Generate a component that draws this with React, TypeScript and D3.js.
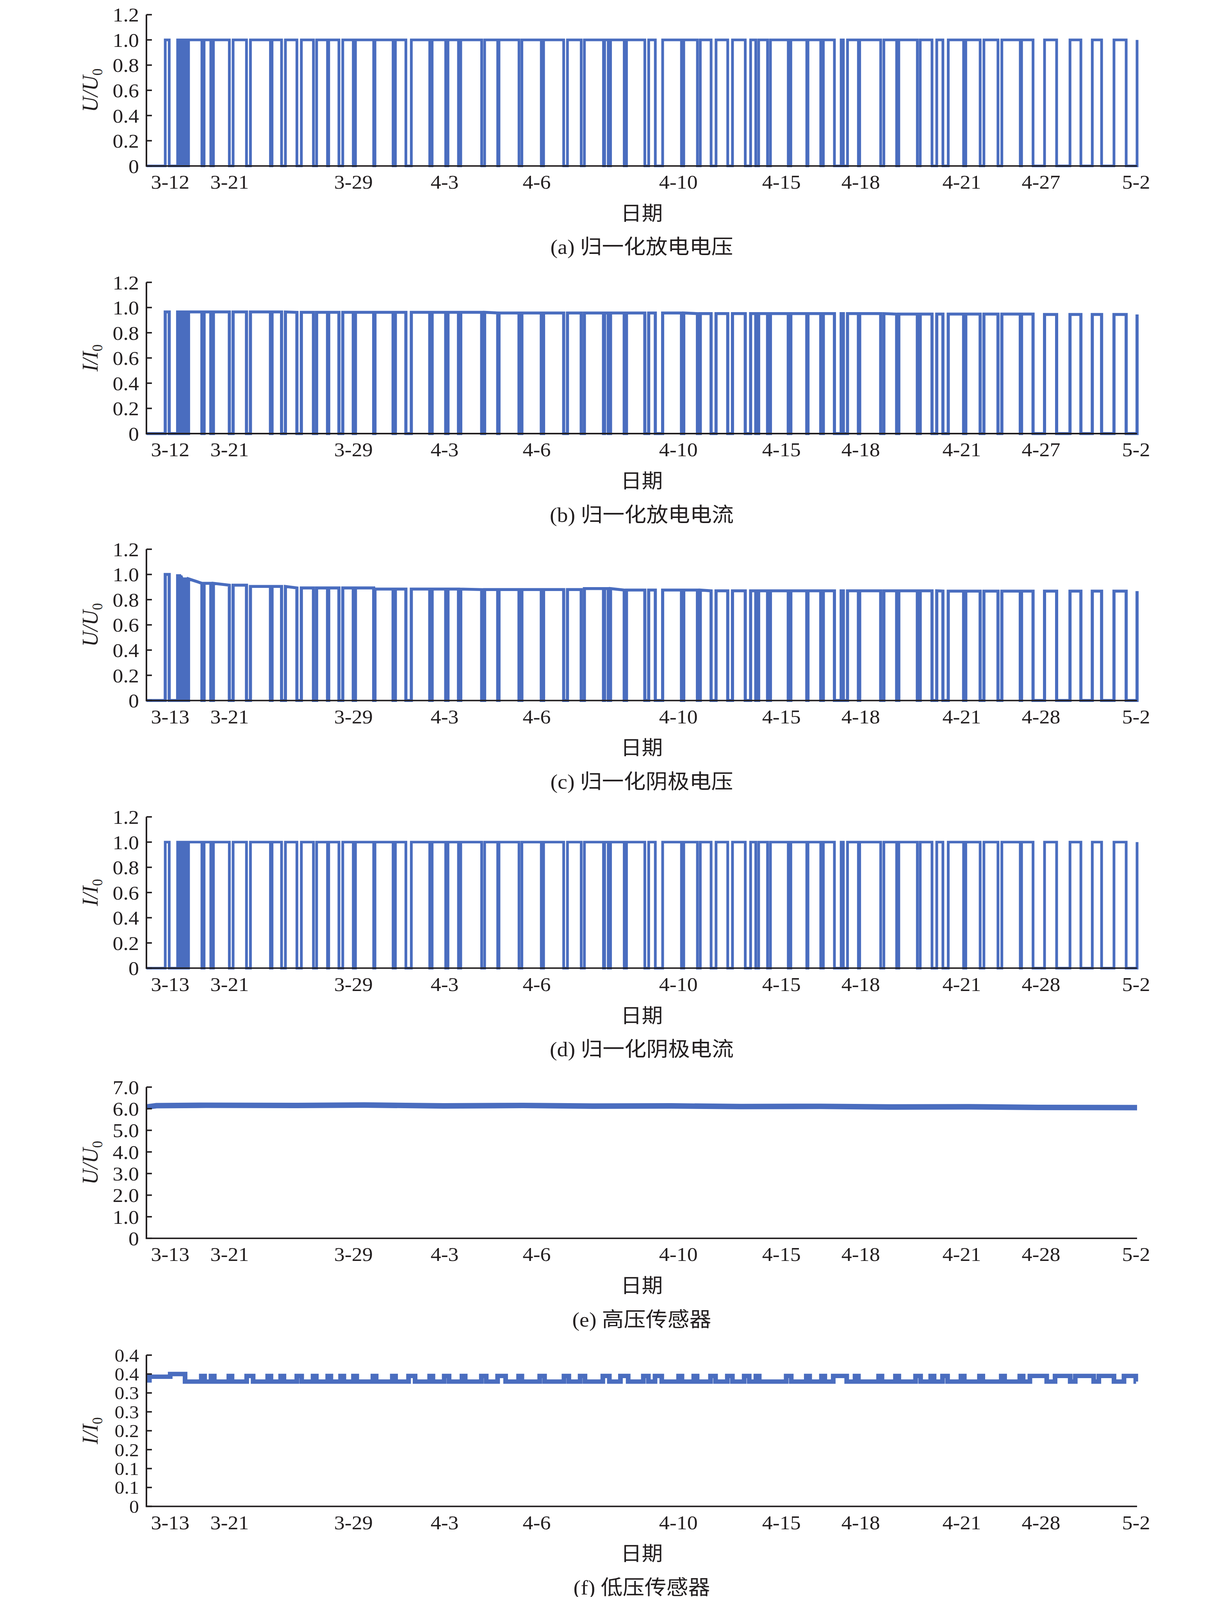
import React, { useEffect, useState } from "react";
import * as d3 from "d3";

// sample index runs 0..1000 across the record, date labels sit at these indices
const tickIndex = [24, 84, 209, 301, 394, 537, 641, 721, 823, 903, 999];
const datesAB = ["3-12", "3-21", "3-29", "4-3", "4-6", "4-10", "4-15", "4-18", "4-21", "4-27", "5-2"];
const datesCF = ["3-13", "3-21", "3-29", "4-3", "4-6", "4-10", "4-15", "4-18", "4-21", "4-28", "5-2"];

// discharge on/off record: a first short run, then the main run with its off gaps
const firstPulse: [number, number] = [19, 23];
const mainStart = 31.5;
const gaps: [number, number][] = [
  [33.5, 34.7], [36, 37.3], [38.6, 39.9], [41.2, 42.5],
  [56, 58.2], [65, 67.6], [83.7, 87.5], [101, 105], [125.2, 126.8], [136.4, 140.3],
  [151.9, 156.4], [168.6, 171.8], [182.8, 184], [194.3, 198.2], [208.8, 211],
  [229.4, 230.7], [249, 251.3], [261.9, 267.4], [286, 288.4], [302.1, 304.4],
  [315, 317.3], [338.4, 341.4], [354.6, 355.9], [376.1, 379], [398.6, 400.9],
  [421.2, 425], [438.9, 442.1], [461.4, 462.5], [466.2, 468.5], [482.3, 484.6],
  [503.1, 507], [513.7, 521.1], [540.1, 542.4], [556.2, 559.1], [570, 575],
  [586.8, 591.6], [604.5, 609.9], [615.1, 618], [627, 629.9], [647.9, 650.5],
  [666.6, 667.8], [680.7, 683.3], [694.5, 701.3], [703.5, 707.7], [718.7, 720],
  [741.2, 744.4], [757.3, 759.5], [778.2, 781.1], [793, 797.8], [804, 809.4],
  [824.9, 827.1], [841.6, 845.4], [859.6, 863.5], [882.1, 883.4], [895, 906.6],
  [918.8, 932.3], [943.3, 954.8], [964.2, 976.7], [989, 1000],
];

// plateau levels while on, [from index, level]
const levelsA: [number, number][] = [[0, 1.0]];
const levelsB: [number, number][] = [
  [0, 0.965], [150, 0.962], [350, 0.957], [550, 0.952], [750, 0.948], [900, 0.945],
];
const levelsC: [number, number][] = [
  [0, 1.0], [25, 0.99], [36, 0.965], [43, 0.945], [52, 0.93], [70, 0.915],
  [105, 0.905], [150, 0.893], [230, 0.884], [330, 0.88], [440, 0.888],
  [470, 0.876], [560, 0.87], [800, 0.868],
];
const levelsD: [number, number][] = [[0, 1.0]];

// high voltage sensor
const levelsE: [number, number][] = [
  [0, 6.08], [10, 6.14], [60, 6.16], [150, 6.15], [220, 6.17], [300, 6.13],
  [380, 6.15], [450, 6.12], [530, 6.13], [600, 6.1], [680, 6.11], [750, 6.08],
  [830, 6.09], [900, 6.06], [1000, 6.05],
];

// low voltage sensor: base level with raised steps
const fStart: [number, number][] = [[0, 0.333], [3, 0.343], [24, 0.35], [39, 0.33]];
const fBase = 0.33;
const fRaised = 0.345;
const fBumps: [number, number][] = [
  [55.4, 58.7], [65.2, 68.5], [83.2, 86.4], [101.2, 107.7], [122.4, 125.7], [135.5, 138.8],
  [151.8, 156.7], [168.2, 171.5], [183, 186.2], [196, 199.3], [209, 212.3], [228.6, 231.9],
  [248.2, 251.5], [264.6, 271.2], [285.9, 289.2], [300.6, 305.5], [318.5, 321.8], [338.1, 343],
  [354.5, 362.6], [375.7, 379], [397, 401.9], [421.5, 426.4], [437.8, 442.7], [460.7, 467.3],
  [478.5, 486.3], [501.6, 506.7], [513.4, 520.2], [537.2, 540.6], [552.5, 555.9], [569.4, 574.5],
  [586.4, 591.5], [603.4, 608.5], [615.2, 618.6], [645.8, 650.9], [666.1, 669.5], [681.4, 684.8],
  [693.3, 706.9], [715.3, 718.7], [739.1, 742.5], [756.1, 759.5], [776.4, 781.5], [791.7, 795.1],
  [803.6, 808.7], [822.2, 825.6], [840.9, 844.3], [862.9, 866.3], [881.6, 885], [891.8, 908.8],
  [917.2, 932.5], [937.6, 956.2], [961.4, 976.7], [986.8, 998.7],
];

const unitTicks = [0, 0.2, 0.4, 0.6, 0.8, 1.0, 1.2];
const unitLabels = ["0", "0.2", "0.4", "0.6", "0.8", "1.0", "1.2"];
const eTicks = [0, 1, 2, 3, 4, 5, 6, 7];
const eLabels = ["0", "1.0", "2.0", "3.0", "4.0", "5.0", "6.0", "7.0"];
const fTicks = [0, 0.05, 0.1, 0.15, 0.2, 0.25, 0.3, 0.35, 0.4];
const fLabels = ["0", "0.1", "0.1", "0.2", "0.2", "0.3", "0.3", "0.4", "0.4"];

const W = 3150;
const H = 4358;
const X0 = 375;
const X1 = 2912;
const PLOT_H = 412;
const BLUE = "#4a6dbf";
const INK = "#231f20";
const SERIF = "'Liberation Serif', 'Times New Roman', 'Noto Sans CJK SC', serif";

const stepLevel = (tbl: [number, number][]) => (x: number) => {
  let v = tbl[0][1];
  for (const [x0, y] of tbl) if (x >= x0) v = y;
  return v;
};

function pulseSignal(tbl: [number, number][]): [number, number][] {
  const lv = stepLevel(tbl);
  const [p0, p1] = firstPulse;
  const pts: [number, number][] = [
    [0, 0], [p0, 0], [p0, lv(p0)], [p1, lv(p1)], [p1, 0],
    [mainStart, 0], [mainStart, lv(mainStart)],
  ];
  gaps.forEach(([g0, g1]) => {
    pts.push([g0, lv(g0)], [g0, 0], [g1, 0], [g1, lv(g1)]);
  });
  return pts;
}

function lowSensor(): [number, number][] {
  const pts: [number, number][] = [];
  fStart.forEach(([x, y], i) => {
    if (i > 0) pts.push([x, pts[pts.length - 1][1]]);
    pts.push([x, y]);
  });
  fBumps.forEach(([b0, b1]) => {
    pts.push([b0, fBase], [b0, fRaised], [b1, fRaised], [b1, fBase]);
  });
  pts.push([999, fBase]);
  return pts;
}

type Panel = {
  zero: number;
  yMax: number;
  ticks: number[];
  labels: string[];
  sym: "U" | "I";
  dates: string[];
  caption: string;
  data: [number, number][];
  width: number;
  tickFont: number;
};

const panels: Panel[] = [
  { zero: 452, yMax: 1.2, ticks: unitTicks, labels: unitLabels, sym: "U", dates: datesAB, caption: "(a) 归一化放电电压", data: pulseSignal(levelsA), width: 7, tickFont: 54 },
  { zero: 1181, yMax: 1.2, ticks: unitTicks, labels: unitLabels, sym: "I", dates: datesAB, caption: "(b) 归一化放电电流", data: pulseSignal(levelsB), width: 8, tickFont: 54 },
  { zero: 1908, yMax: 1.2, ticks: unitTicks, labels: unitLabels, sym: "U", dates: datesCF, caption: "(c) 归一化阴极电压", data: pulseSignal(levelsC), width: 8, tickFont: 54 },
  { zero: 2637, yMax: 1.2, ticks: unitTicks, labels: unitLabels, sym: "I", dates: datesCF, caption: "(d) 归一化阴极电流", data: pulseSignal(levelsD), width: 7, tickFont: 54 },
  { zero: 3373, yMax: 7, ticks: eTicks, labels: eLabels, sym: "U", dates: datesCF, caption: "(e) 高压传感器", data: levelsE, width: 15, tickFont: 54 },
  { zero: 4103, yMax: 0.4, ticks: fTicks, labels: fLabels, sym: "I", dates: datesCF, caption: "(f) 低压传感器", data: lowSensor(), width: 12, tickFont: 50 },
];

const x = d3.scaleLinear().domain([0, 1000]).range([X0, X1]);

function PanelView({ p }: { p: Panel }) {
  const y = d3.scaleLinear().domain([0, p.yMax]).range([p.zero, p.zero - PLOT_H]);
  const line = d3
    .line<[number, number]>()
    .x((d) => x(d[0]))
    .y((d) => y(d[1]));
  const midY = p.zero - PLOT_H / 2;
  const midX = (X0 + X1) / 2;
  return (
    <g>
      <path d={line(p.data) || ""} fill="none" stroke={BLUE} strokeWidth={p.width} strokeLinejoin="miter" />
      <line x1={X0} x2={X0} y1={y(p.yMax)} y2={y(0)} stroke={INK} strokeWidth={4} />
      <line x1={X0 - 2} x2={X1} y1={y(0)} y2={y(0)} stroke={INK} strokeWidth={4} />
      {p.ticks.map((t, i) => (
        <g key={i}>
          <line x1={X0} x2={X0 + 14} y1={y(t)} y2={y(t)} stroke={INK} strokeWidth={4} />
          <text x={356} y={y(t)} dy="0.35em" textAnchor="end" fontSize={p.tickFont} fontFamily={SERIF} fill={INK}>
            {p.labels[i]}
          </text>
        </g>
      ))}
      {tickIndex.map((t, i) => (
        <text key={i} x={x(t)} y={p.zero + 62} textAnchor="middle" fontSize={54} fontFamily={SERIF} fill={INK}>
          {p.dates[i]}
        </text>
      ))}
      <text x={midX} y={p.zero + 148} textAnchor="middle" fontSize={54} fontFamily={SERIF} fill={INK}>
        日期
      </text>
      <text x={midX} y={p.zero + 240} textAnchor="middle" fontSize={56} fontFamily={SERIF} fill={INK}>
        {p.caption}
      </text>
      <text
        transform={`translate(250,${midY}) rotate(-90)`}
        textAnchor="middle"
        fontSize={58}
        fontFamily={SERIF}
        fill={INK}
      >
        <tspan fontStyle="italic">{p.sym}</tspan>
        <tspan fontStyle="italic">/</tspan>
        <tspan fontStyle="italic">{p.sym}</tspan>
        <tspan fontSize={38} dy={12}>0</tspan>
      </text>
    </g>
  );
}

export default function App() {
  // the window can be shorter than the figure; fit the whole figure into it
  const [viewH, setViewH] = useState(H);
  useEffect(() => {
    const h = window.innerHeight;
    if (h > 0 && h < H) setViewH(h);
  }, []);
  return (
    <svg
      width={W}
      height={viewH}
      viewBox={`0 0 ${W} ${H}`}
      preserveAspectRatio="none"
      style={{ display: "block", margin: "-8px" }}
    >
      <rect width={W} height={H} fill="#fff" />
      {panels.map((p, i) => (
        <PanelView key={i} p={p} />
      ))}
    </svg>
  );
}
